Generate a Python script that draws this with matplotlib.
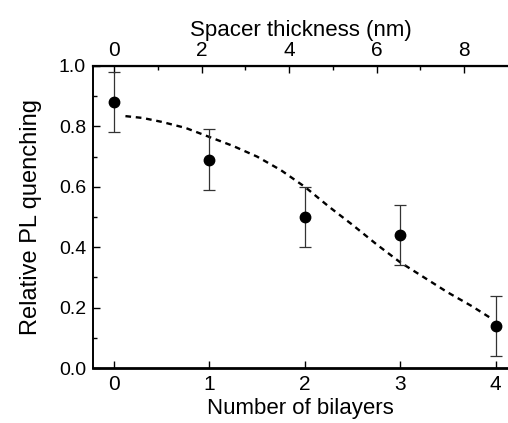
import matplotlib
matplotlib.use("Agg")
import matplotlib.pyplot as plt
from matplotlib.ticker import MultipleLocator, FixedLocator

plt.rcParams['font.family'] = ['Liberation Sans', 'DejaVu Sans']

# measured data
bilayers = [0, 1, 2, 3, 4]
quench = [0.88, 0.69, 0.50, 0.44, 0.14]
quench_err = [0.10, 0.10, 0.10, 0.10, 0.10]

# dashed fit curve
fit_x = [0.12, 0.3, 0.5, 0.75, 1.0, 1.25, 1.5, 1.75, 2.0, 2.25, 2.5, 2.75, 3.0, 3.25, 3.5, 3.75, 3.95]
fit_y = [0.834, 0.828, 0.815, 0.795, 0.765, 0.735, 0.70, 0.655, 0.60, 0.535, 0.474, 0.41, 0.35, 0.30, 0.25, 0.205, 0.165]

nm_ticks = [0, 2, 4, 6, 8]
nm_minor = [1, 3, 5, 7]
nm_per_bilayer = 2.18

fig = plt.figure(figsize=(5.08, 4.23), dpi=100)
ax = fig.add_axes([93/508, 1 - 368/423, 415/508, 302/423])

ax.plot(fit_x, fit_y, color='black', lw=1.7, linestyle=(0, (2.4, 2.0)))
ax.errorbar(bilayers, quench, yerr=quench_err, fmt='o', color='black',
            ms=7.5, ecolor='#333333', elinewidth=0.9, capsize=4.5, capthick=0.9)

ax.set_xlim(-0.22, 4.13)
ax.set_ylim(0.0, 1.0)
ax.xaxis.set_major_locator(MultipleLocator(1))
ax.yaxis.set_major_locator(MultipleLocator(0.2))
ax.yaxis.set_minor_locator(MultipleLocator(0.1))
ax.yaxis.set_major_formatter(plt.FormatStrFormatter('%.1f'))

ax.tick_params(which='both', direction='in', width=1, pad=5)
ax.tick_params(axis='y', labelsize=14)
ax.tick_params(axis='x', labelsize=15)
ax.tick_params(which='major', length=5)
ax.tick_params(which='minor', length=3)

ax.spines['right'].set_visible(False)
ax.spines['left'].set_linewidth(1.4)
ax.spines['top'].set_linewidth(1.6)
ax.spines['bottom'].set_linewidth(2.0)

ax.set_xlabel('Number of bilayers', fontsize=16, labelpad=3)
ax.set_ylabel('Relative PL quenching', fontsize=17, labelpad=12)

top = ax.secondary_xaxis('top', functions=(lambda b: b * nm_per_bilayer,
                                            lambda t: t / nm_per_bilayer))
top.xaxis.set_major_locator(FixedLocator(nm_ticks))
top.xaxis.set_minor_locator(FixedLocator(nm_minor))
top.tick_params(which='both', direction='in', labelsize=15, width=1, pad=4)
top.tick_params(which='major', length=5)
top.tick_params(which='minor', length=3)
top.set_xlabel('Spacer thickness (nm)', fontsize=16, labelpad=4)

fig.savefig('out.png', dpi=100)
